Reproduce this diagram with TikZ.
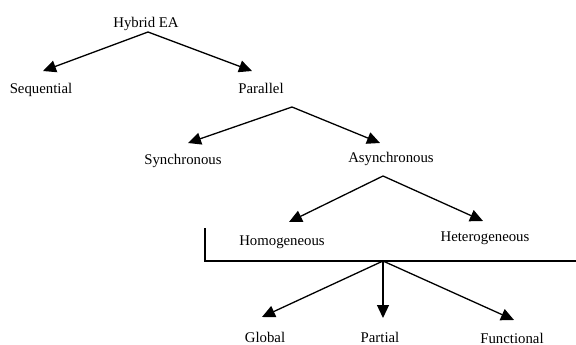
\documentclass[tikz,border=0pt]{standalone}
\usepackage{fontspec}
\setmainfont{Liberation Serif}
\usetikzlibrary{arrows.meta}

\begin{document}
\begin{tikzpicture}[x=1pt,y=-1pt,
		label/.style={anchor=base,inner sep=0pt,font=\fontsize{14.8}{17}\selectfont},
		arr/.style={line width=1.3pt,-{Triangle[length=13pt,width=12pt]}}]
		\useasboundingbox (0,0) rectangle (576,345);
		\node[label] (hybrid) at (146,28) {Hybrid EA};
		\node[label] (sequential) at (41,94) {Sequential};
		\node[label] (parallel) at (261,94) {Parallel};
		\node[label] (synchronous) at (183,164) {Synchronous};
		\node[label] (asynchronous) at (391,162) {Asynchronous};
		\node[label] (homogeneous) at (282,245) {Homogeneous};
		\node[label] (heterogeneous) at (485,241) {Heterogeneous};
		\node[label] (global) at (265,342) {Global};
		\node[label] (partial) at (380,342) {Partial};
		\node[label] (functional) at (512,343) {Functional};
		\coordinate (bartop) at (205,228);
		\coordinate (barcorner) at (205,261);
		\coordinate (barend) at (576,261);
		\coordinate (split) at (383,261);
		\draw[arr] ([shift={(2,4)}]hybrid.base) -- ([shift={(2,-23)}]sequential.base);
		\draw[arr] ([shift={(2,4)}]hybrid.base) -- ([shift={(-9,-23)}]parallel.base);
		\draw[arr] ([shift={(31,13)}]parallel.base) -- ([shift={(5,-21)}]synchronous.base);
		\draw[arr] ([shift={(31,13)}]parallel.base) -- ([shift={(-11,-19)}]asynchronous.base);
		\draw[arr] ([shift={(-8,14)}]asynchronous.base) -- ([shift={(7,-23)}]homogeneous.base);
		\draw[arr] ([shift={(-8,14)}]asynchronous.base) -- ([shift={(-2,-20)}]heterogeneous.base);
		\draw[line width=1.3pt] (bartop) -- (barcorner) -- (barend);
		\draw[arr] (split) -- ([shift={(-3,-25)}]global.base);
		\draw[arr] (split) -- ([shift={(3,-24)}]partial.base);
		\draw[arr] (split) -- ([shift={(2,-23)}]functional.base);
	\end{tikzpicture}
\end{document}
